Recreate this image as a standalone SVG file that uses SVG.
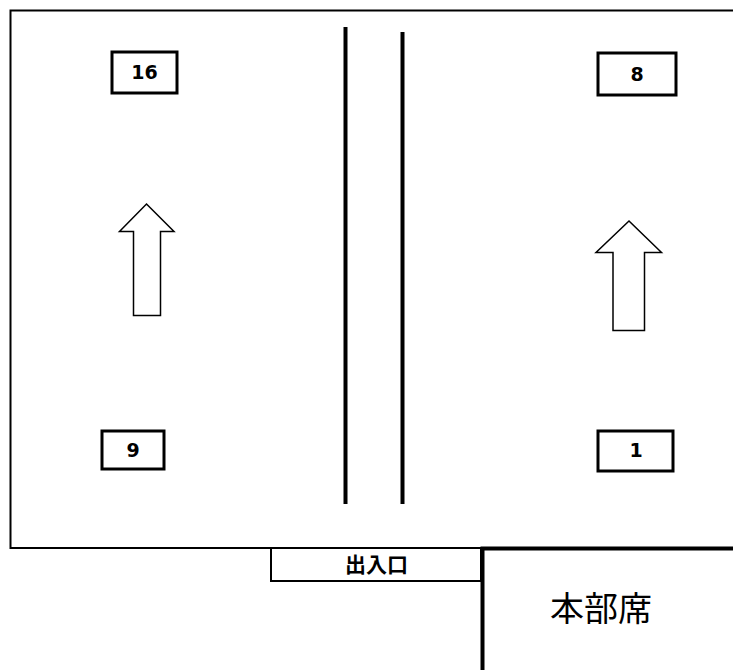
<svg xmlns="http://www.w3.org/2000/svg" width="733" height="670" viewBox="0 0 733 670">
<style>
.box{fill:#fff;stroke:#000;stroke-width:3}
.num{font-family:"DejaVu Sans","Liberation Sans",sans-serif;font-weight:bold;font-size:19px;text-anchor:middle;fill:#000}
.arrow{fill:#fff;stroke:#000;stroke-width:1.5;stroke-linejoin:miter}
.cjk{font-family:"Noto Sans CJK JP","Noto Sans CJK SC",sans-serif;text-anchor:middle;fill:#000}
</style>
<rect width="733" height="670" fill="#fff"/>
<g id="frame">
<rect x="10.5" y="10.5" width="740" height="537.5" fill="#fff" stroke="#000" stroke-width="2"/>
</g>
<g id="lanes">
<line x1="345.5" y1="27" x2="345.5" y2="504" stroke="#000" stroke-width="4"/>
<line x1="402.5" y1="32" x2="402.5" y2="504" stroke="#000" stroke-width="4"/>
</g>
<g id="node16"><rect class="box" x="112" y="52" width="65" height="41"/><text class="num" x="144.5" y="79">16</text></g>
<g id="node8"><rect class="box" x="598" y="53" width="78" height="42"/><text class="num" x="637" y="81">8</text></g>
<g id="node9"><rect class="box" x="102" y="431" width="62" height="38"/><text class="num" x="133" y="457">9</text></g>
<g id="node1"><rect class="box" x="598" y="431" width="75" height="40"/><text class="num" x="636" y="457">1</text></g>
<g id="arrows">
<polygon class="arrow" points="146.5,204 174,231.5 160.5,231.5 160.5,315.5 133.5,315.5 133.5,231.5 119.5,231.5"/>
<polygon class="arrow" points="629,221 661.5,252.5 644.5,252.5 644.5,330.5 613,330.5 613,252.5 596,252.5"/>
</g>
<g id="entrance">
<rect x="271" y="548" width="210" height="33" fill="#fff" stroke="#000" stroke-width="2"/>
<text class="cjk" x="376.5" y="572" font-size="21" font-weight="bold">出入口</text>
</g>
<g id="hq">
<path d="M482.5,670 V548.5 H735" fill="none" stroke="#000" stroke-width="4"/>
<text class="cjk" x="601" y="621" font-size="34">本部席</text>
</g>
</svg>
